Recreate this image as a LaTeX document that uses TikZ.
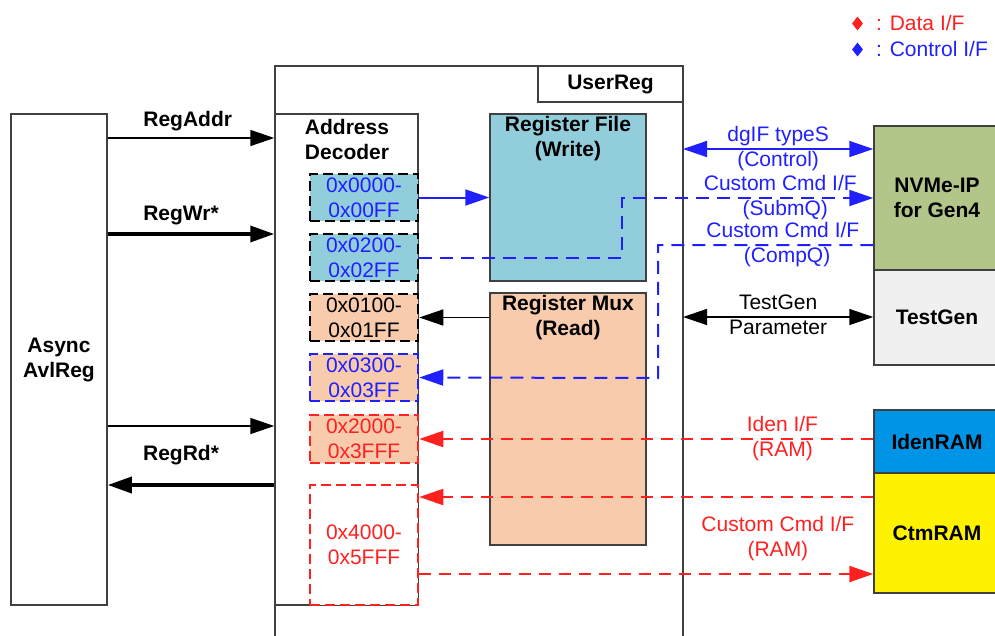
\documentclass[tikz,border=0pt]{standalone}
\usepackage{fontspec}
\setmainfont{Liberation Sans}
\usepackage{xcolor}
\usetikzlibrary{arrows.meta}
\usetikzlibrary{shapes.geometric}

\definecolor{wrblue}{HTML}{92CDDC}
\definecolor{rdorange}{HTML}{F8CBAD}
\definecolor{nvgreen}{HTML}{B3C689}
\definecolor{tggray}{HTML}{F0F0F0}
\definecolor{idblue}{HTML}{0094E6}
\definecolor{ifblue}{HTML}{2020FF}
\definecolor{ifred}{HTML}{FF2020}
\definecolor{bordergray}{HTML}{404040}

\begin{document}
\begin{tikzpicture}[
  x=1pt, y=-1pt,
  font=\fontsize{21}{25}\selectfont,
  hd/.style={font=\fontsize{21}{25}\selectfont\bfseries},
  blk/.style={draw=bordergray, line width=1.5pt, inner sep=0pt, align=center},
  rng/.style={line width=2.5pt, dash pattern=on 10pt off 5pt, minimum width=108pt, inner sep=0pt, align=center},
  tag/.style={inner sep=1.5pt, text height=15pt, text depth=5pt},
  arr/.style={-{Triangle[length=24pt,width=16pt]}},
  darr/.style={{Triangle[length=24pt,width=16pt]}-{Triangle[length=24pt,width=16pt]}},
  ctl/.style={ifblue, line width=2pt, dash pattern=on 13pt off 8pt},
  dat/.style={ifred, line width=2pt, dash pattern=on 12pt off 8pt}
]

\useasboundingbox (0,0) rectangle (995,635);

\draw [bordergray, line width=1.5pt] (275,645) |- (683,66) -- (683,645);
\coordinate (uregr) at (683,66);
\node [blk, hd, fill=white, minimum width=145pt, minimum height=36pt] (ureg) at (610.5,84) {UserReg};

\node [blk, hd, minimum width=96pt, minimum height=491pt] (avl) at (59,359.5) {Async\\AvlReg};
\node [blk, minimum width=143pt, minimum height=491pt] (dec) at (346.5,359.5) {};
\node [hd, align=center] (dectxt) at (347,139) {Address\\Decoder};

\node [blk, fill=wrblue, minimum width=156pt, minimum height=167pt] (regfile) at (568,197.5) {};
\node [hd, align=center] (regfiletxt) at (568,139) {Register File\\(Write)};
\node [blk, fill=rdorange, minimum width=156pt, minimum height=252pt] (regmux) at (568,419) {};
\node [hd, align=center] (regmuxtxt) at (568,318) {Register Mux\\(Read)};

\node [rng, draw=black, text=ifblue, fill=wrblue, minimum height=47pt] (r0) at (364,197.5) {0x0000-\\0x00FF};
\node [rng, draw=black, text=ifblue, fill=wrblue, minimum height=47pt] (r2) at (364,257.5) {0x0200-\\0x02FF};
\node [rng, draw=black, text=black, fill=rdorange, minimum height=47pt] (r1) at (364,317.5) {0x0100-\\0x01FF};
\node [rng, draw=ifblue, text=ifblue, fill=rdorange, minimum height=47pt] (r3) at (364,377.5) {0x0300-\\0x03FF};
\node [rng, draw=ifred, text=ifred, fill=rdorange, minimum height=48pt] (r20) at (364,439) {0x2000-\\0x3FFF};
\node [rng, draw=ifred, text=ifred, fill=white, minimum height=120pt] (r40) at (364,545) {0x4000-\\0x5FFF};

\node [blk, hd, fill=nvgreen, minimum width=126pt, minimum height=144pt] (nvme) at (937,198) {NVMe-IP\\for Gen4};
\node [blk, hd, fill=tggray, minimum width=126pt, minimum height=95pt] (tg) at (937,317.5) {TestGen};
\node [blk, hd, fill=idblue, minimum width=126pt, minimum height=63pt] (iden) at (937,441.5) {IdenRAM};
\node [blk, hd, fill=yellow, minimum width=126pt, minimum height=120pt] (ctm) at (937,533) {CtmRAM};

\node [diamond, fill=ifred, inner sep=0pt, minimum width=11pt, minimum height=14pt] (ldat) at (857.5,23.5) {};
\node [anchor=west, text=ifred, inner sep=0pt] (ldattxt) at (876,23) {: Data I/F};
\node [diamond, fill=ifblue, inner sep=0pt, minimum width=11pt, minimum height=14pt] (lctl) at (857.5,49.5) {};
\node [anchor=west, text=ifblue, inner sep=0pt] (lctltxt) at (876,49) {: Control I/F};

\draw [arr, line width=1.5pt] (avl.east |- 0,138) -- node [tag, hd, above=4pt, pos=0.48] (lregaddr) {RegAddr} (dec.west |- 0,138);
\draw [arr, line width=3.5pt] (avl.east |- 0,234) -- node [tag, hd, above=5pt, pos=0.44] (lregwr) {RegWr*} (dec.west |- 0,234);
\draw [arr, line width=1.5pt] (avl.east |- 0,426) -- (dec.west |- 0,426);
\draw [arr, line width=3.5pt] (dec.west |- 0,485) -- node [tag, hd, above=16pt, pos=0.56] (lregrd) {RegRd*} (avl.east |- 0,485);

\draw [arr, ifblue, line width=2pt] (r0.east) -- (regfile.west |- r0.east);
\draw [arr, ctl] (r2.east) -| (622,198) -- node [tag, above, pos=0.63] (lsubm) {Custom Cmd I/F} node [tag, below, pos=0.65] (lsubmq) {(SubmQ)} (nvme.west |- 0,198);
\draw [arr, ctl] (nvme.west |- 0,245) -| node [tag, above, pos=0.21] (lcomp) {Custom Cmd I/F} node [tag, below, pos=0.2] (lcompq) {(CompQ)} (658,378) -- (r3.east);
\draw [darr, ifblue, line width=1.5pt] (uregr |- 0,149) -- node [tag, above] (ldgif) {dgIF typeS} node [tag, below] (lcontrol) {(Control)} (nvme.west |- 0,149);

\draw [darr, line width=1.5pt] (uregr |- 0,317) -- node [tag, above] (ltg) {TestGen} node [tag, below] (lparam) {Parameter} (tg.west |- 0,317);
\draw [arr, line width=1.5pt] (regmux.west |- r1.east) -- (r1.east);

\draw [arr, dat] (iden.west |- r20.east) -- node [tag, above, pos=0.2] (liden) {Iden I/F} node [tag, below, pos=0.2] (lidenram) {(RAM)} (r20.east);
\draw [arr, dat] (ctm.west |- 0,497) -- (r40.east |- 0,497);
\draw [arr, dat] (r40.east |- 0,574) -- node [above=12pt, pos=0.79, align=center, inner sep=0pt] (lctm) {Custom Cmd I/F\\(RAM)} (ctm.west |- 0,574);

\end{tikzpicture}
\end{document}
